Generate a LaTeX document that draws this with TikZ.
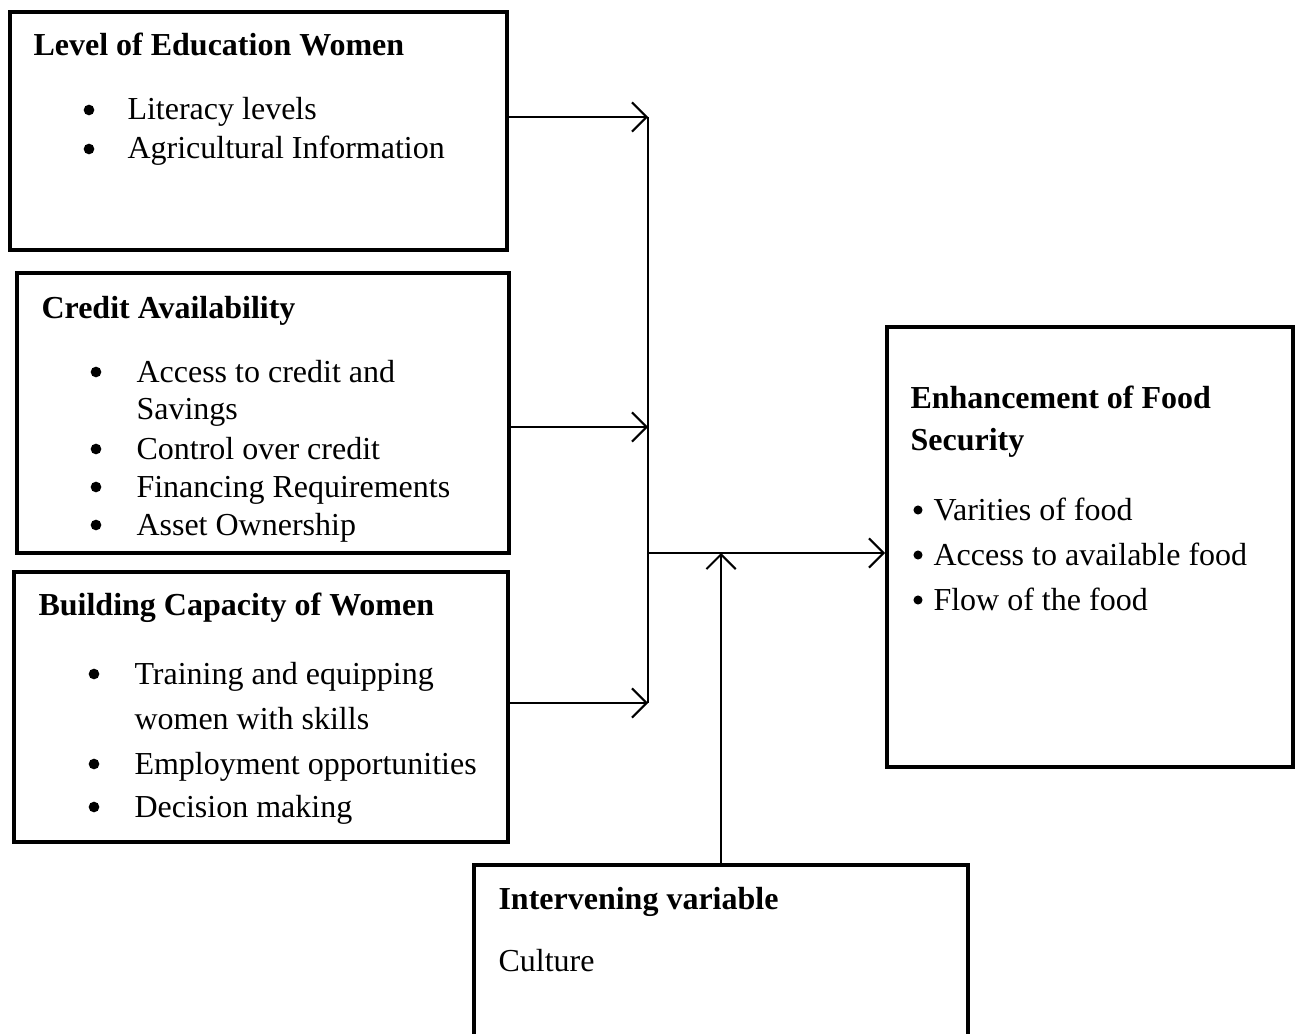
\documentclass[tikz,border=0pt]{standalone}
\usepackage{fontspec}
\setmainfont{Liberation Serif}
\usetikzlibrary{arrows.meta, fit, positioning}

\begin{document}
\begin{tikzpicture}
    [
        x=0.375pt, y=-0.375pt,
        every node/.style={font=\fontsize{12pt}{14pt}\selectfont},
        frame/.style={draw, line width=1.5pt, inner sep=0pt},
        heading/.style={anchor=base west, inner sep=0pt, yshift=-0.75pt, font=\fontsize{12pt}{14pt}\selectfont\bfseries},
        entry/.style={anchor=base west, inner sep=0pt, yshift=-0.75pt},
        dot/.style={circle, fill, inner sep=0pt, minimum size=4pt, yshift=3pt},
        small dot/.style={dot, minimum size=3.4pt},
        link/.style={line width=0.75pt},
        arrow/.style={link, -{Straight Barb[length=5.5pt, width=11pt, line width=0.75pt]}},
    ]
    \useasboundingbox (0,0) rectangle (1300,1034);

    % boxes
    \node (education) [frame, fit={(10,12) (507,250)}] {};
    \node (credit) [frame, fit={(17,273) (509,553)}] {};
    \node (capacity) [frame, fit={(14,572) (508,842)}] {};
    \node (security) [frame, fit={(887,327) (1293,767)}] {};
    \node (intervening) [frame, fit={(474,865) (968,1090)}] {};

    % level of education
    \node (education title) [heading] at (33,54) {Level of Education Women};
    \foreach \y/\txt [count=\i] in {118/Literacy levels, 157/Agricultural Information}
    {
        \node (education dot \i) [dot] at (89,\y) {};
        \node (education item \i) [entry] at (127,\y) {\txt};
    }

    % credit
    \node (credit title) [heading] at (41,316) {Credit Availability};
    \foreach \y/\txt [count=\i] in {380/Access to credit and, 457/Control over credit, 495/Financing Requirements, 533/Asset Ownership}
    {
        \node (credit dot \i) [dot] at (96,\y) {};
        \node (credit item \i) [entry] at (136,\y) {\txt};
    }
    \node (credit item wrap) [entry] at (136,417) {Savings};

    % capacity
    \node (capacity title) [heading] at (38,613) {Building Capacity of Women};
    \foreach \y/\txt [count=\i] in {682/Training and equipping, 772/Employment opportunities, 815/Decision making}
    {
        \node (capacity dot \i) [dot] at (94,\y) {};
        \node (capacity item \i) [entry] at (134,\y) {\txt};
    }
    \node (capacity item wrap) [entry] at (134,727) {women with skills};

    % food security
    \node (security title) [heading] at (910,406) {Enhancement of Food};
    \node (security title wrap) [heading] at (910,448) {Security};
    \foreach \y/\txt [count=\i] in {518/Varities of food, 563/Access to available food, 608/Flow of the food}
    {
        \node (security dot \i) [small dot] at (918,\y) {};
        \node (security item \i) [entry] at (933,\y) {\txt};
    }

    % intervening
    \node (intervening title) [heading] at (498,907) {Intervening variable};
    \node (intervening item) [entry] at (498,969) {Culture};

    % connectors
    \coordinate (bar top) at (648,117);
    \coordinate (bar mid) at (648,427);
    \coordinate (bar low) at (648,703);
    \coordinate (join) at (648,553);
    \draw[arrow] (education.east |- bar top) -- (bar top);
    \draw[arrow] (credit.east |- bar mid) -- (bar mid);
    \draw[arrow] (capacity.east |- bar low) -- (bar low);
    \draw[link] (bar top) -- (bar low);
    \draw[arrow] (join) -- (security.west |- join);
    \draw[arrow] (intervening.north) -- (intervening.north |- join);
\end{tikzpicture}
\end{document}
